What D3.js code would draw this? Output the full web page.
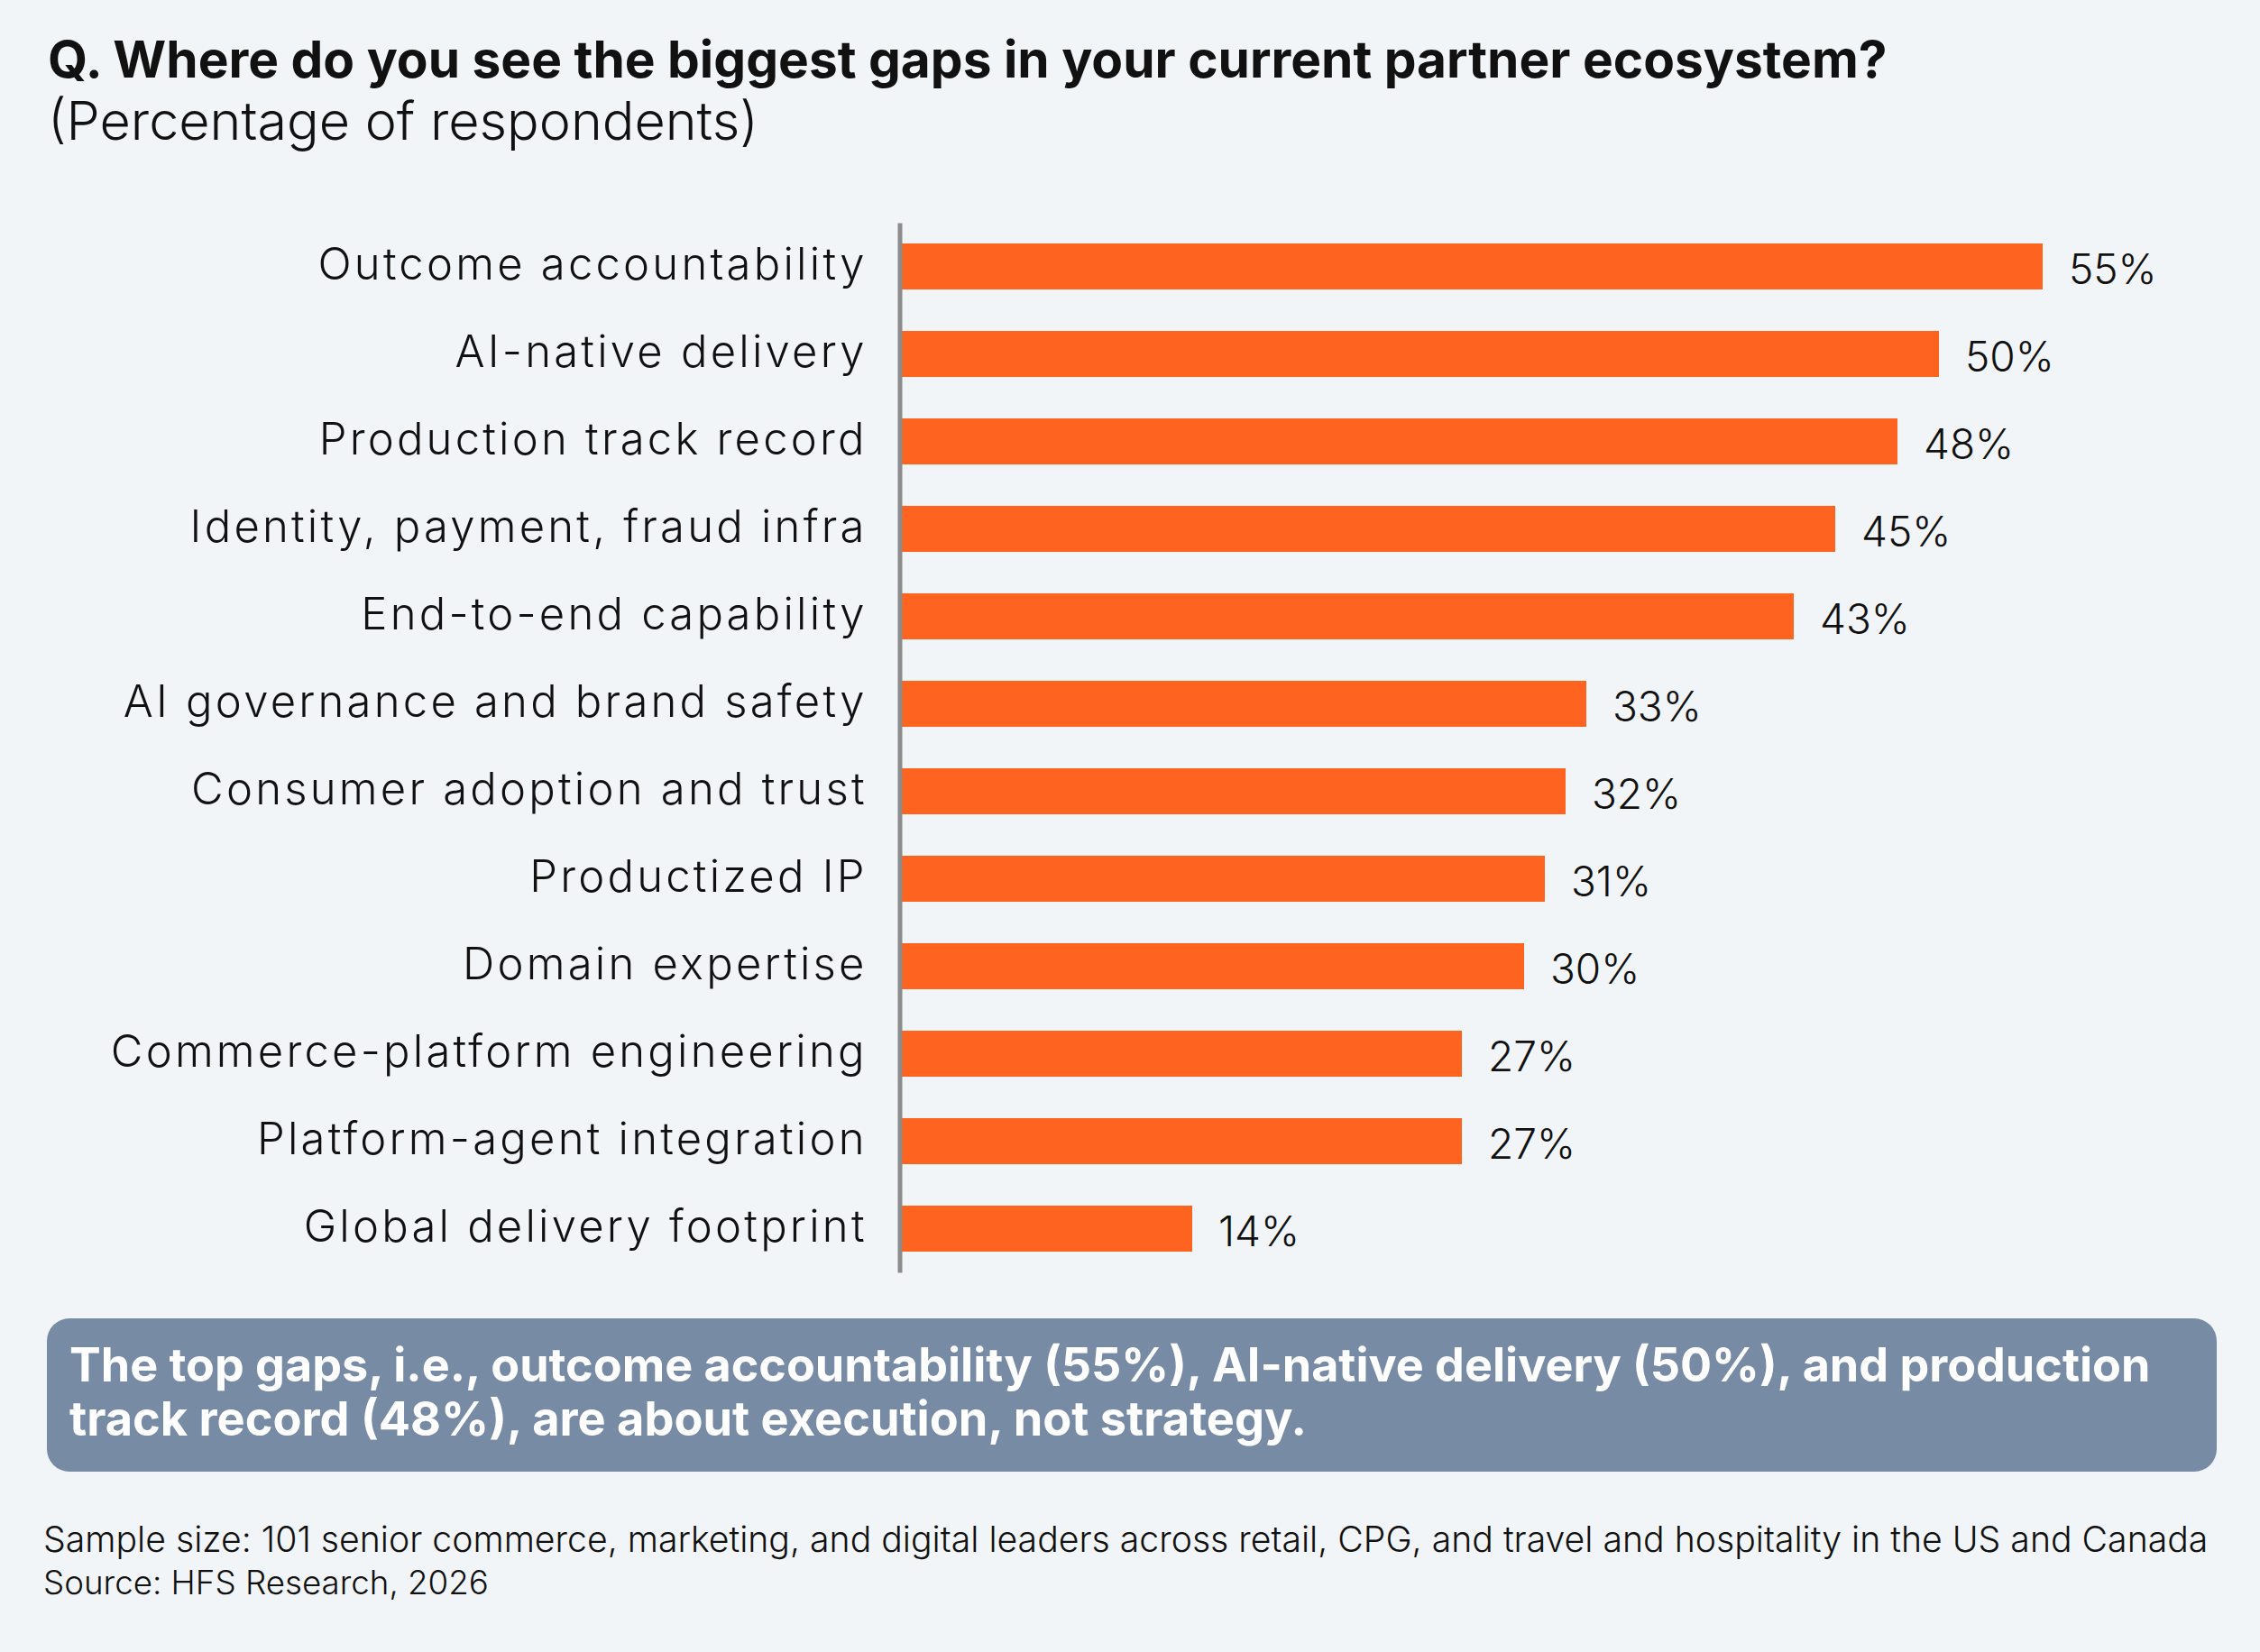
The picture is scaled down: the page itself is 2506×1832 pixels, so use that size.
<!DOCTYPE html>
<html>
<head>
<meta charset="utf-8">
<script src="https://cdn.jsdelivr.net/npm/d3@7"></script>
<style>
  html, body { margin: 0; padding: 0; background: #F2F5F8; }
  svg { display: block; }
</style>
</head>
<body>
<div class="chart"></div>
<script>
// data
let categories = [
  "Outcome accountability",
  "AI-native delivery",
  "Production track record",
  "Identity, payment, fraud infra",
  "End-to-end capability",
  "AI governance and brand safety",
  "Consumer adoption and trust",
  "Productized IP",
  "Domain expertise",
  "Commerce-platform engineering",
  "Platform-agent integration",
  "Global delivery footprint"
];
let values = [55, 50, 48, 45, 43, 33, 32, 31, 30, 27, 27, 14];

let titleText = "Q. Where do you see the biggest gaps in your current partner ecosystem?";
let subtitleText = "(Percentage of respondents)";
let calloutLines = [
  "The top gaps, i.e., outcome accountability (55%), AI-native delivery (50%), and production",
  "track record (48%), are about execution, not strategy."
];
let footerLines = [
  "Sample size: 101 senior commerce, marketing, and digital leaders across retail, CPG, and travel and hospitality in the US and Canada",
  "Source: HFS Research, 2026"
];

let config = {
  width: 2506,
  height: 1832,
  font: "Inter, 'Open Sans', sans-serif",
  barColor: '#FF6320',
  axisColor: '#8C8C8C',
  textColor: '#111111',
  calloutColor: '#788BA5'
};

let svg = d3.select('div.chart').append('svg')
  .attr('width', config.width)
  .attr('height', config.height);

svg.append('rect')
  .attr('width', config.width).attr('height', config.height)
  .attr('fill', '#F2F5F8');

// shrink/grow a text line's font so it spans the wanted width
function fitWidth(sel, target) {
  let node = sel.node();
  let size = parseFloat(sel.attr('font-size'));
  let w = node.getComputedTextLength();
  if (w > 0) sel.attr('font-size', (size * target / w).toFixed(2));
}

// title
let title = svg.append('text')
  .attr('x', 53).attr('y', 86)
  .attr('font-family', config.font)
  .attr('font-weight', 700)
  .attr('font-size', 48)
  .attr('fill', config.textColor)
  .text(titleText);
fitWidth(title, 2040);

let subtitle = svg.append('text')
  .attr('x', 53).attr('y', 155)
  .attr('font-family', config.font)
  .attr('font-weight', 300)
  .attr('font-size', 50)
  .attr('fill', config.textColor)
  .text(subtitleText);
fitWidth(subtitle, 788);

// scales
let x = d3.scaleLinear()
  .domain([0, 55])
  .range([1000, 2265]);

let y = d3.scaleBand()
  .domain(categories)
  .range([247, 1411])
  .paddingInner(0.474)
  .paddingOuter(0.237);

// bars
svg.append('g').selectAll('rect')
  .data(values)
  .enter().append('rect')
  .attr('x', x(0))
  .attr('y', (d, i) => y(categories[i]))
  .attr('width', d => x(d) - x(0))
  .attr('height', y.bandwidth())
  .attr('fill', config.barColor);

// value labels
svg.append('g').selectAll('text')
  .data(values)
  .enter().append('text')
  .attr('x', d => x(d) + 29)
  .attr('y', (d, i) => y(categories[i]) + y.bandwidth() / 2 + 19)
  .attr('font-family', config.font)
  .attr('font-weight', 300)
  .attr('font-size', 46)
  .attr('fill', config.textColor)
  .text(d => d + '%');

// category axis
let axis = svg.append('g')
  .attr('transform', 'translate(997.5,0)')
  .call(d3.axisLeft(y).tickSize(0).tickSizeOuter(0).tickPadding(39));

axis.select('.domain')
  .attr('stroke', config.axisColor)
  .attr('stroke-width', 5);

let tickText = axis.selectAll('.tick text')
  .attr('font-family', config.font)
  .attr('font-weight', 300)
  .attr('font-size', 49)
  .attr('fill', config.textColor)
  .attr('dy', '0.3em');

// the reference face is broader: add even tracking so that
// "Outcome accountability" spans about 606px like in the picture
let first = tickText.filter(d => d === categories[0]).node();
let firstW = first.getComputedTextLength();
let tracking = (606 - firstW) / (categories[0].length - 1);
tickText
  .attr('letter-spacing', tracking.toFixed(2))
  .attr('dx', tracking.toFixed(2));

// callout box
svg.append('rect')
  .attr('x', 52).attr('y', 1462)
  .attr('width', 2406).attr('height', 170)
  .attr('rx', 25).attr('ry', 25)
  .attr('fill', config.calloutColor);

let calloutTargets = [2308, 1372];
calloutLines.forEach((line, i) => {
  let t = svg.append('text')
    .attr('x', 77).attr('y', 1532 + i * 60)
    .attr('font-family', config.font)
    .attr('font-weight', 700)
    .attr('font-size', 48)
    .attr('fill', '#FFFFFF')
    .text(line);
  fitWidth(t, calloutTargets[i]);
});

// footer
let footerTargets = [2401, 494];
footerLines.forEach((line, i) => {
  let t = svg.append('text')
    .attr('x', 48).attr('y', 1721 + i * 47)
    .attr('font-family', config.font)
    .attr('font-weight', 300)
    .attr('font-size', 36)
    .attr('fill', config.textColor)
    .text(line);
  fitWidth(t, footerTargets[i]);
});
</script>
</body>
</html>
